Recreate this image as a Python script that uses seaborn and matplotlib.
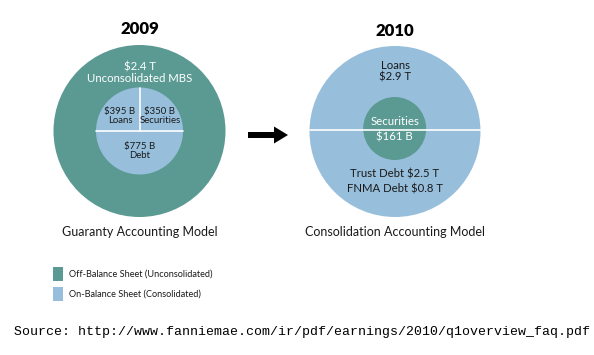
import matplotlib
matplotlib.use("Agg")
import matplotlib.pyplot as plt
from matplotlib.patches import Circle, Rectangle, FancyArrow
import seaborn as sns

# ---- data ----
years = ["2009", "2010"]
models = ["Guaranty Accounting Model", "Consolidation Accounting Model"]
legend_labels = ["Off-Balance Sheet (Unconsolidated)", "On-Balance Sheet (Consolidated)"]
source_text = "Source: http://www.fanniemae.com/ir/pdf/earnings/2010/q1overview_faq.pdf"

# 2009 (guaranty model)
outer_2009_label = "Unconsolidated MBS"
outer_2009_value = "$2.4 T"
inner_2009_labels = ["Loans", "Securities", "Debt"]
inner_2009_values = ["$395 B", "$350 B", "$775 B"]

# 2010 (consolidation model)
outer_2010_top = ["Loans", "$2.9 T"]
outer_2010_bottom = ["Trust Debt $2.5 T", "FNMA Debt $0.8 T"]
inner_2010 = ["Securities", "$161 B"]

TEAL = "#5b9a93"
BLUE = "#97bfdc"
INK = "#1a1a1a"

sns.set_theme(style="white")
plt.rcParams["font.family"] = ["Lato", "DejaVu Sans"]

fig = plt.figure(figsize=(5.94, 3.55), dpi=100)
ax = fig.add_axes([0, 0, 1, 1])
ax.set_xlim(0, 594)
ax.set_ylim(355, 0)
ax.set_aspect("equal")
ax.axis("off")


def two_lines(x, y, lines, size, color, gap=1.05):
    ax.text(x, y, "\n".join(lines), ha="center", va="center", fontsize=size,
            color=color, linespacing=gap)


# ---- 2009 ----
cx, cy = 139.5, 131
ax.add_patch(Circle((cx, cy), 86, color=TEAL, lw=0))
ax.add_patch(Circle((cx, cy), 43.5, color=BLUE, lw=0))
ax.plot([cx - 43.5, cx + 43.5], [cy, cy], color="white", lw=1.2)
ax.plot([cx, cx], [cy - 43.5, cy], color="white", lw=1.2)
ax.text(cx, 29, years[0], ha="center", va="center", fontsize=12, fontweight="heavy", color="black")
two_lines(cx, 72.5, [outer_2009_value, outer_2009_label], 8.2, "white", 1.0)
two_lines(120, 116, [inner_2009_values[0], inner_2009_labels[0]], 6.9, INK, 1.0)
two_lines(160, 116, [inner_2009_values[1], inner_2009_labels[1]], 6.9, INK, 1.0)
two_lines(cx, 151.5, [inner_2009_values[2], inner_2009_labels[2]], 6.9, INK, 1.0)
ax.text(cx, 232, models[0], ha="center", va="center", fontsize=9, color=INK)

# ---- arrow ----
ax.add_patch(FancyArrow(248, 135, 40, 0, width=6, head_width=17, head_length=14,
                        length_includes_head=True, color="black", lw=0))

# ---- 2010 ----
cx2, cy2 = 395, 131.5
ax.add_patch(Circle((cx2, cy2), 85.5, color=BLUE, lw=0))
ax.plot([cx2 - 85.5, cx2 + 85.5], [130, 130], color="white", lw=1.2)
ax.add_patch(Circle((394.7, 128.5), 31.5, color=TEAL, lw=0))
ax.text(cx2, 31, years[1], ha="center", va="center", fontsize=12, fontweight="heavy", color="black")
two_lines(cx2, 71, outer_2010_top, 8.2, INK, 1.0)
two_lines(394.7, 129.5, inner_2010, 8.2, "white", 1.45)
two_lines(cx2, 181.5, outer_2010_bottom, 8.2, INK, 1.35)
ax.text(cx2, 232, models[1], ha="center", va="center", fontsize=9, color=INK)

# ---- legend ----
for i, (lab, col) in enumerate(zip(legend_labels, [TEAL, BLUE])):
    y0 = 267 + i * 20
    ax.add_patch(Rectangle((53, y0), 10, 14, color=col, lw=0))
    ax.text(69, y0 + 7, lab, ha="left", va="center", fontsize=6.6, color=INK)

# ---- source ----
ax.text(14, 332, source_text, ha="left", va="center", fontsize=9.55,
        family=["Liberation Mono", "DejaVu Sans Mono"], color="black")

fig.savefig("out.png", dpi=100, facecolor="white")
